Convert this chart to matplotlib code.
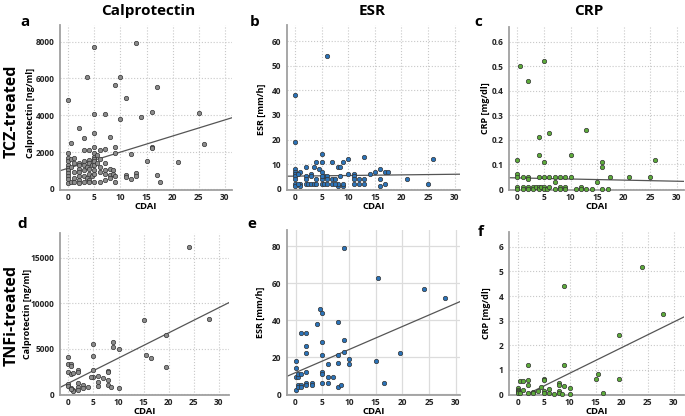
import numpy as np
import matplotlib
matplotlib.use("Agg")
import matplotlib.pyplot as plt
from matplotlib.ticker import FuncFormatter

plt.rcParams['font.family'] = ['Open Sans', 'DejaVu Sans']
plt.rcParams['font.weight'] = 'bold'

# --- TCZ-treated: calprotectin vs CDAI ---
tcz_cal_x = [0, 5, 13, 3.5, 10, 9, 11, 17, 5, 7, 10, 14, 16, 25, 26, 21, 15, 16, 16, 17,
             17.5, 12, 13, 13, 12, 11, 11, 9, 9, 9, 8, 7, 6, 5, 2, 3, 3, 4, 0.5, 0,
             0, 0, 0, 0, 0, 0, 0, 0, 0,
             0.5, 0.5, 0.5, 1, 1, 1, 1, 1,
             2, 2, 2, 2, 2, 2, 2, 3, 3, 3, 3, 3, 3.5, 3.5,
             4, 4, 4, 4, 4, 4, 4.5, 4.5,
             5, 5, 5, 5, 5, 5, 5, 5, 5, 5.5, 5.5,
             6, 6, 6, 6, 7, 7, 7, 7, 8, 8, 8, 8.5, 8.5, 9]
tcz_cal_y = [4850, 7700, 7900, 6050, 6050, 5650, 4950, 5550, 4050, 4050, 3800, 3900, 4200, 4100, 2450, 1450, 1500, 2250, 2200, 750,
             350, 1900, 850, 700, 550, 750, 650, 1950, 2300, 350, 2800, 2150, 2100, 3050, 3300, 2750, 2100, 2100, 2500, 1950,
             1700, 1500, 1300, 1150, 1000, 850, 700, 550, 300,
             1600, 1200, 350, 1700, 1400, 900, 600, 400,
             1400, 1300, 1100, 900, 700, 500, 300, 1500, 1300, 1000, 700, 400, 1200, 600,
             1550, 1400, 1100, 800, 500, 350, 1300, 700,
             2250, 1950, 1750, 1650, 1500, 1300, 1000, 800, 350, 1850, 1400,
             1600, 1200, 900, 350, 1400, 1000, 800, 500, 1100, 750, 600, 1000, 800, 700]

# --- TCZ-treated: ESR vs CDAI ---
tcz_esr_x = [6, 0, 0, 5, 13, 26, 10, 4, 5, 7, 9, 8, 8.5, 3.5, 2, 0, 0, 0, 0, 0, 0, 0, 1, 0.5, 4.5,
             5, 3, 16, 15, 17, 17.5, 14, 10, 11, 11, 11, 13, 12, 16, 21, 25, 17, 16, 12, 13, 11, 7, 7,
             7.5, 8, 8, 8.5, 9, 9, 2, 2.5, 3, 3.5, 4, 5, 5.5, 6, 5.5, 6, 1, 1, 2, 2, 3, 4, 5, 5, 6, 7.5, 0.5]
tcz_esr_y = [54, 38, 19, 14, 13, 12, 12, 11, 11, 11, 11, 9, 9, 9, 9, 8, 7, 6, 5, 4, 2, 1, 7, 6, 8,
             7, 6, 8, 7, 7, 7, 6, 6, 6, 5, 4, 4, 4, 4, 4, 2, 2, 1, 2, 2, 2, 2, 4,
             4, 1, 2, 5, 1, 2, 2, 2, 2, 2, 2, 2, 2, 2, 5, 5, 2, 1, 5, 4, 5, 4, 4, 5, 4, 2, 2]

# --- TCZ-treated: CRP vs CDAI ---
tcz_crp_x = [0.5, 2, 5, 4, 6, 13, 4, 10, 0, 26, 5, 16, 16, 0, 0, 1, 2, 2, 4, 5, 6, 7, 8, 9, 10,
             7, 15, 17.5, 21, 25,
             0, 0, 1, 1, 2, 2, 3, 3, 3.5, 4, 4, 4.5, 5, 5, 5.5, 6, 7, 8, 8, 9, 9, 11, 12, 12, 13, 14, 16, 17]
tcz_crp_y = [0.50, 0.44, 0.52, 0.21, 0.23, 0.24, 0.14, 0.14, 0.12, 0.12, 0.11, 0.11, 0.09, 0.06, 0.05,
             0.05, 0.05, 0.04, 0.05, 0.05, 0.05, 0.05, 0.05, 0.05, 0.05,
             0.03, 0.03, 0.05, 0.05, 0.05,
             0.01, 0.0, 0.01, 0.0, 0.01, 0.0, 0.01, 0.0, 0.01, 0.01, 0.0, 0.01, 0.01, 0.0, 0.0, 0.01, 0.0,
             0.01, 0.0, 0.01, 0.0, 0.0, 0.01, 0.0, 0.0, 0.0, 0.0, 0.0]

# --- TNFi-treated: calprotectin vs CDAI ---
tnf_cal_x = [24, 28, 15, 19.5, 19.5, 15.5, 16.5, 9, 9, 10, 10, 5, 5, 5, 0, 0, 0.5, 0.5, 0, 0.5, 1,
             2, 2, 0, 0, 0.5, 1, 1, 0.5, 2, 2, 2, 3, 3, 4, 5, 4.5, 6, 6, 6, 7, 8, 8, 8, 8, 8.5]
tnf_cal_y = [16200, 8300, 8100, 6500, 3000, 4300, 4000, 5700, 5200, 4900, 650, 5500, 4150, 2600, 4100,
             3300, 3300, 3100, 2400, 2200, 2300, 2700, 2400, 1100, 900, 700, 500, 350, 600, 1200, 750,
             500, 1000, 700, 750, 1900, 1900, 2000, 1300, 900, 1800, 2500, 2400, 1500, 1000, 800]

# --- TNFi-treated: ESR vs CDAI ---
tnf_esr_x = [9, 15.5, 24, 28, 19.5, 15, 16.5, 4.5, 5, 4, 8, 1, 2, 2, 2, 5, 9, 9, 5, 8, 8, 6, 10, 10,
             0, 0, 2, 5, 5, 0, 0.5, 0.5, 1, 6, 7, 0, 0.5, 1, 0.5, 1, 2, 2, 3, 3, 5, 6, 8, 8.5]
tnf_esr_y = [79, 63, 57, 52, 22, 18, 6, 46, 44, 38, 39, 33, 33, 26, 22, 28, 29, 23, 21, 21, 17, 16, 19, 16,
             18, 14, 12, 12, 11, 9, 9, 11, 11, 9, 9, 2, 5, 5, 4, 4, 6, 5, 6, 5, 6, 6, 4, 5]

# --- TNFi-treated: CRP vs CDAI ---
tnf_crp_x = [24, 9, 28, 19.5, 2, 9, 15.5, 15, 19.5, 16.5, 0.5, 1, 2, 2, 5, 5, 8, 8, 9, 10, 4.5,
             0, 0, 0, 0, 0, 0.5, 1, 2, 3, 3, 4, 5, 5, 6, 6, 7, 8, 8, 8.5, 10]
tnf_crp_y = [5.17, 4.42, 3.27, 2.42, 1.2, 1.2, 0.85, 0.65, 0.65, 0.05, 0.55, 0.55, 0.6, 0.38, 0.65,
             0.58, 0.45, 0.4, 0.35, 0.25, 0.3, 0.28, 0.2, 0.15, 0.1, 0.05, 0.05, 0.2, 0.05, 0.12, 0.05,
             0.15, 0.15, 0.05, 0.22, 0.05, 0.03, 0.15, 0.05, 0.02, 0.02]

# regression lines: (intercept, slope)
fit_tcz_cal = (1126, 87.2)
fit_tcz_esr = (5.14, 0.025)
fit_tcz_crp = (0.0453, -0.00045)
fit_tnf_cal = (1190, 277)
fit_tnf_esr = (11.6, 1.246)
fit_tnf_crp = (-0.177, 0.104)

col_titles = ['Calprotectin', 'ESR', 'CRP']
row_titles = ['TCZ-treated', 'TNFi-treated']
panel_letters = ['a', 'b', 'c', 'd', 'e', 'f']

GRAY = '#8c8c8c'
BLUE = '#2b73b9'
GREEN = '#5dab3b'

fig = plt.figure(figsize=(6.85, 4.16), dpi=100)
W, H = 685.0, 416.0


def add_axes(left, top, right, bottom):
    # pixel box -> figure fraction
    return fig.add_axes([left / W, 1 - bottom / H, (right - left) / W, (bottom - top) / H])


def scatter_panel(ax, x, y, fit, color, xlim, ylim, yticks, ylabel, ylab_x, ylab_y=0.5,
                  fmt=None, solid_grid=False):
    ax.set_xlim(*xlim)
    ax.set_ylim(*ylim)
    ax.set_xticks([0, 5, 10, 15, 20, 25, 30])
    ax.set_yticks(yticks)
    if fmt is not None:
        ax.yaxis.set_major_formatter(FuncFormatter(fmt))
    if solid_grid:
        ax.grid(True, color='#dcdcdc', lw=0.9, ls='-')
    else:
        ax.grid(True, color='#c8c8c8', lw=0.8, ls=':')
    ax.set_axisbelow(True)
    for s in ['top', 'right']:
        ax.spines[s].set_visible(False)
    for s in ['left', 'bottom']:
        ax.spines[s].set_color('#a0a0a0')
        ax.spines[s].set_linewidth(1.3)
    ax.tick_params(length=0, labelsize=6.0, colors='#222222')
    ax.tick_params(axis='x', pad=2.5)
    ax.tick_params(axis='y', pad=4.0)
    for lab in ax.get_xticklabels() + ax.get_yticklabels():
        lab.set_fontweight('bold')

    ax.scatter(x, y, s=10, c=color, edgecolors='#333333', linewidths=0.5, zorder=3, clip_on=False)
    xs = np.array(xlim)
    ax.plot(xs, fit[0] + fit[1] * xs, color='#555555', lw=0.9, zorder=2)

    ax.set_xlabel('CDAI', fontsize=6.8, fontweight='bold')
    ax.xaxis.set_label_coords(0.5, -0.075)
    ax.set_ylabel(ylabel, fontsize=6.5, fontweight='bold')
    ax.yaxis.set_label_coords(ylab_x, ylab_y)


def crp_fmt(v, pos):
    return '0' if abs(v) < 1e-9 else '%g' % v


# 上排: TCZ
ax_a = add_axes(60, 25, 232, 190)
scatter_panel(ax_a, tcz_cal_x, tcz_cal_y, fit_tcz_cal, GRAY, (-1.6, 31.4), (-60, 8900),
              [0, 2000, 4000, 6000, 8000], 'Calprotectin [ng/ml]', -0.145, 0.47)
ax_b = add_axes(287, 25, 460, 190)
scatter_panel(ax_b, tcz_esr_x, tcz_esr_y, fit_tcz_esr, BLUE, (-1.5, 31.0), (-0.5, 66.5),
              [0, 10, 20, 30, 40, 50, 60], 'ESR [mm/h]', -0.121, 0.49)
ax_c = add_axes(509, 27, 684, 190)
scatter_panel(ax_c, tcz_crp_x, tcz_crp_y, fit_tcz_crp, GREEN, (-1.6, 31.4), (-0.004, 0.66),
              [0, 0.1, 0.2, 0.3, 0.4, 0.5, 0.6], 'CRP [mg/dl]', -0.109, 0.5, fmt=crp_fmt)

# 下排: TNFi
ax_d = add_axes(60, 233, 229, 395)
scatter_panel(ax_d, tnf_cal_x, tnf_cal_y, fit_tnf_cal, GRAY, (-1.65, 32.0), (-100, 17700),
              [0, 5000, 10000, 15000], 'Calprotectin [ng/ml]', -0.165, 0.5)
ax_e = add_axes(287, 230, 460, 395)
scatter_panel(ax_e, tnf_esr_x, tnf_esr_y, fit_tnf_esr, BLUE, (-1.6, 30.8), (-0.5, 88.7),
              [0, 20, 40, 60, 80], 'ESR [mm/h]', -0.127, 0.5, solid_grid=True)
ax_f = add_axes(509, 232, 684, 395)
scatter_panel(ax_f, tnf_crp_x, tnf_crp_y, fit_tnf_crp, GREEN, (-1.67, 32.0), (-0.02, 6.6),
              [0, 1, 2, 3, 4, 5, 6], 'CRP [mg/dl]', -0.103, 0.5)

# column titles
for label, xc in zip(col_titles, [148, 372, 589]):
    fig.text(xc / W, 1 - 11 / H, label, fontsize=11, fontweight='bold', ha='center', va='center')

# row titles
for label, yc in zip(row_titles, [111, 316]):
    fig.text(12 / W, 1 - yc / H, label, fontsize=11.5, fontweight='bold', rotation=90,
             ha='center', va='center')

# panel letters
letter_pos = [(25, 22), (255, 22), (478, 22), (22, 224), (252, 224), (481, 232)]
for letter, (px, py) in zip(panel_letters, letter_pos):
    fig.text(px / W, 1 - py / H, letter, fontsize=11, fontweight='bold', ha='center', va='center')

fig.savefig('out.png', dpi=100)
